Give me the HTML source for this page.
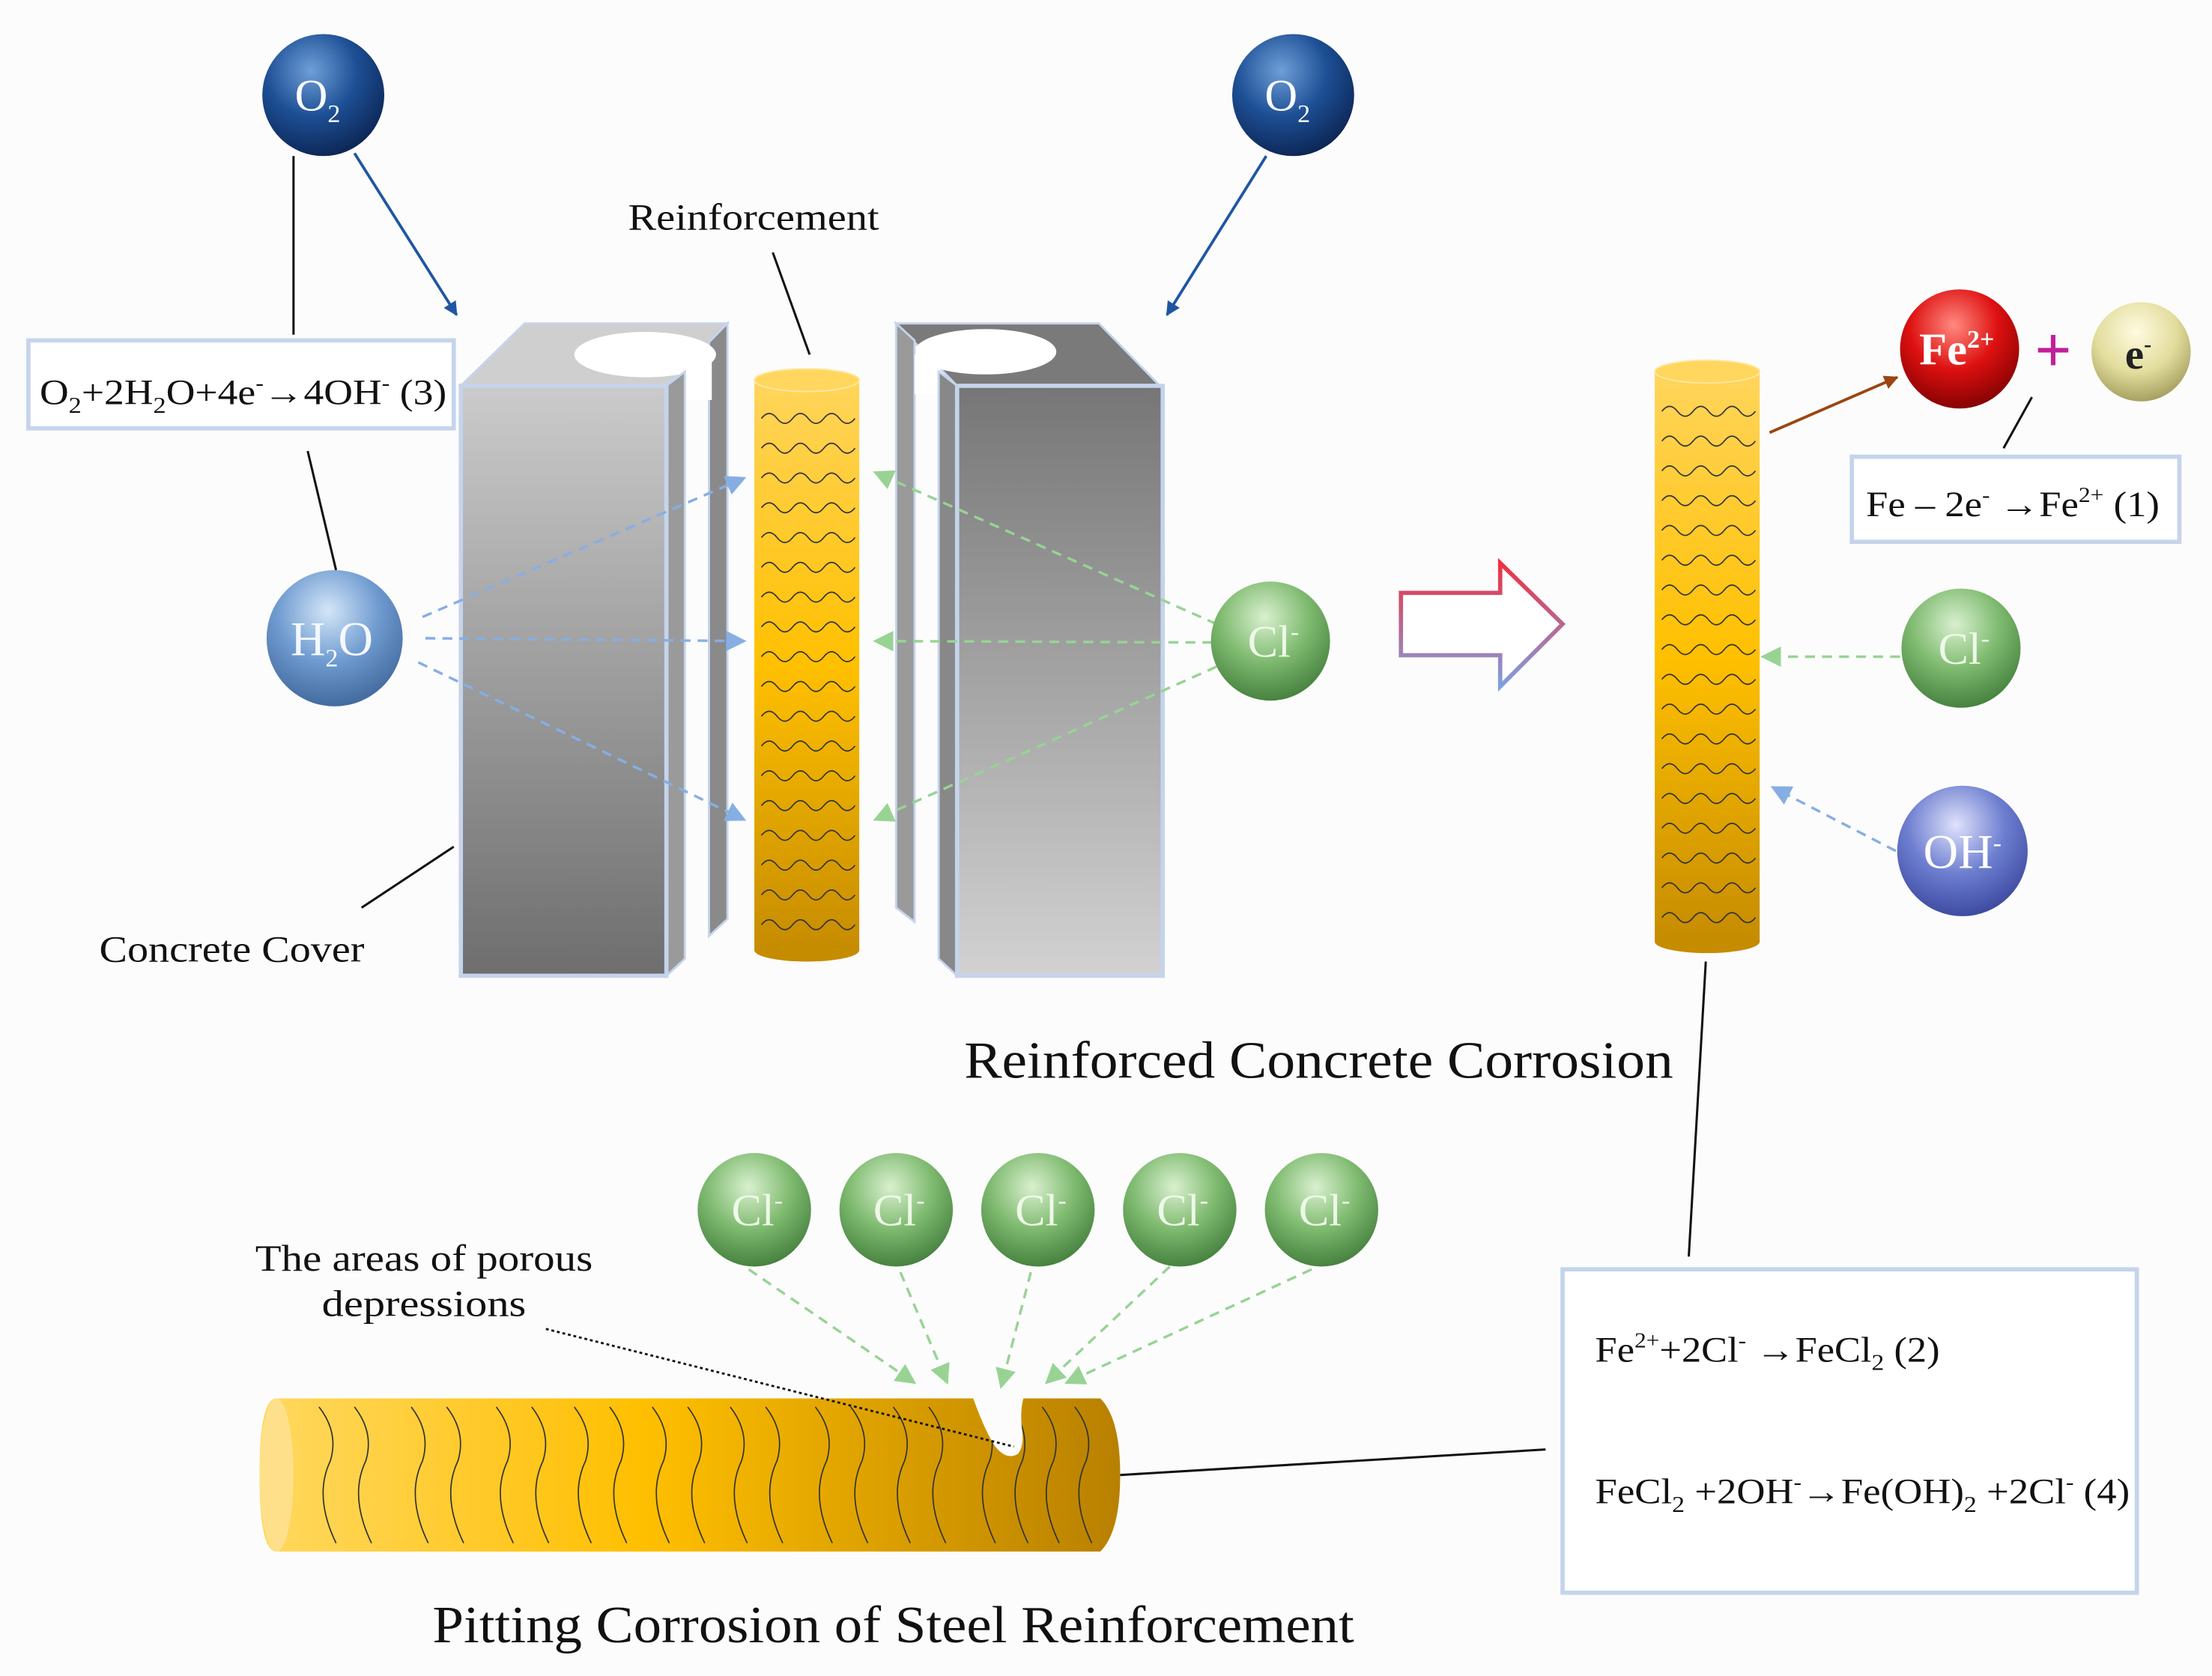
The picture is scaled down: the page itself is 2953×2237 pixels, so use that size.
<!DOCTYPE html>
<html><head><meta charset="utf-8"><style>
html,body{margin:0;padding:0;background:#fcfcfc;}
svg{display:block}
text{font-family:"Liberation Serif",serif;fill:#111}
</style></head><body>
<svg id="s" width="2953" height="2237" viewBox="0 0 1560 1181.7" xmlns="http://www.w3.org/2000/svg">
<defs>
<radialGradient id="gO2" cx="0.4" cy="0.3" r="0.75"><stop offset="0" stop-color="#6f9fd8"/><stop offset="0.5" stop-color="#1d4f95"/><stop offset="1" stop-color="#0b2350"/></radialGradient>
<radialGradient id="gH2O" cx="0.45" cy="0.3" r="0.75"><stop offset="0" stop-color="#d4e6f8"/><stop offset="0.5" stop-color="#6f9bd0"/><stop offset="1" stop-color="#3d6497"/></radialGradient>
<radialGradient id="gCl" cx="0.45" cy="0.3" r="0.75"><stop offset="0" stop-color="#d9f0cf"/><stop offset="0.5" stop-color="#7eba6f"/><stop offset="1" stop-color="#3f7a39"/></radialGradient>
<radialGradient id="gFe" cx="0.45" cy="0.3" r="0.75"><stop offset="0" stop-color="#ff8a80"/><stop offset="0.5" stop-color="#dd1010"/><stop offset="1" stop-color="#7a0000"/></radialGradient>
<radialGradient id="gE" cx="0.45" cy="0.3" r="0.75"><stop offset="0" stop-color="#fffbe0"/><stop offset="0.55" stop-color="#e2dc9c"/><stop offset="1" stop-color="#9c9658"/></radialGradient>
<radialGradient id="gOH" cx="0.45" cy="0.3" r="0.75"><stop offset="0" stop-color="#dfe2fb"/><stop offset="0.5" stop-color="#6d7ed0"/><stop offset="1" stop-color="#37439a"/></radialGradient>
<linearGradient id="gL" x1="0" y1="0" x2="0" y2="1"><stop offset="0" stop-color="#cbcbcb"/><stop offset="1" stop-color="#6e6e6e"/></linearGradient>
<linearGradient id="gR" x1="0" y1="0" x2="0" y2="1"><stop offset="0" stop-color="#767676"/><stop offset="1" stop-color="#d2d2d2"/></linearGradient>
<linearGradient id="gBar" x1="0" y1="0" x2="0" y2="1"><stop offset="0" stop-color="#ffd55c"/><stop offset="0.5" stop-color="#ffc000"/><stop offset="1" stop-color="#c68c00"/></linearGradient>
<linearGradient id="gHB" x1="0" y1="0" x2="1" y2="0"><stop offset="0" stop-color="#ffd860"/><stop offset="0.45" stop-color="#ffbf00"/><stop offset="1" stop-color="#b88000"/></linearGradient>
<linearGradient id="gArr" x1="0" y1="0" x2="0" y2="1"><stop offset="0" stop-color="#f03040"/><stop offset="1" stop-color="#7fa0e0"/></linearGradient>
<marker id="mB" viewBox="0 0 10 10" refX="9" refY="5" markerWidth="5" markerHeight="5" orient="auto"><path d="M0,0L10,5L0,10z" fill="#1f56a3"/></marker>
<marker id="mLB" viewBox="0 0 10 10" refX="9" refY="5" markerWidth="8" markerHeight="8" orient="auto"><path d="M0,0L10,5L0,10z" fill="#86aee3"/></marker>
<marker id="mG" viewBox="0 0 10 10" refX="9" refY="5" markerWidth="8" markerHeight="8" orient="auto"><path d="M0,0L10,5L0,10z" fill="#98d394"/></marker>
<marker id="mBr" viewBox="0 0 10 10" refX="9" refY="5" markerWidth="5" markerHeight="5" orient="auto"><path d="M0,0L10,5L0,10z" fill="#9b4510"/></marker>
</defs>
<rect width="1560" height="1182" fill="#fcfcfc"/>

<polygon points="500,240 513,228 513,648 500,660" fill="#8a8a8a" stroke="#c5d4ec" stroke-width="1.5"/>
<polygon points="325,272 370,228 513,228 470,272" fill="#cfcfcf" stroke="#c5d4ec" stroke-width="1.5"/>
<ellipse cx="455" cy="250" rx="50" ry="16" fill="#fff"/>
<rect x="482" y="252" width="20" height="30" fill="#fff"/>
<polygon points="470,272 483,262 483,676 470,688" fill="#9a9a9a" stroke="#c5d4ec" stroke-width="1.5"/>
<rect x="325" y="272" width="145" height="416" fill="url(#gL)" stroke="#c5d4ec" stroke-width="3"/>
<polygon points="632,228 775,228 818,272 675,272" fill="#7a7a7a" stroke="#c5d4ec" stroke-width="1.5"/>
<ellipse cx="695" cy="248" rx="50" ry="16" fill="#fff"/>
<polygon points="632,228 645,240 645,650 632,640" fill="#9a9a9a" stroke="#c5d4ec" stroke-width="1.5"/>
<rect x="645" y="250" width="18" height="28" fill="#fff"/>
<polygon points="662,262 675,272 675,688 662,676" fill="#888" stroke="#c5d4ec" stroke-width="1.5"/>
<rect x="675" y="272" width="145" height="416" fill="url(#gR)" stroke="#c5d4ec" stroke-width="3"/>

<rect x="532" y="268" width="74" height="402" fill="url(#gBar)"/>
<ellipse cx="569" cy="670" rx="37" ry="8" fill="#c68c00"/>
<ellipse cx="569" cy="268" rx="37" ry="8" fill="#ffd75e" stroke="#ffe7a0" stroke-width="1"/>
<g id="w1" fill="none" stroke="#333" stroke-width="0.9"></g>
<rect x="1167" y="262" width="74" height="402" fill="url(#gBar)"/>
<ellipse cx="1204" cy="664" rx="37" ry="8" fill="#c68c00"/>
<ellipse cx="1204" cy="262" rx="37" ry="8" fill="#ffd75e" stroke="#ffe7a0" stroke-width="1"/>
<g id="w2" fill="none" stroke="#333" stroke-width="0.9"></g>

<g stroke="#111" stroke-width="1.6" fill="none">
<line x1="207" y1="110" x2="207" y2="236"/>
<line x1="217" y1="318" x2="237" y2="402"/>
<line x1="545" y1="178" x2="571" y2="250"/>
<line x1="255" y1="640" x2="320" y2="597"/>
<line x1="1433" y1="280" x2="1413" y2="316"/>
<line x1="1203" y1="678" x2="1191" y2="886"/>
<line x1="790" y1="1040" x2="1090" y2="1022"/>
</g>
<line x1="250" y1="108" x2="322" y2="222" stroke="#1f56a3" stroke-width="2" marker-end="url(#mB)"/>
<line x1="893" y1="110" x2="823" y2="222" stroke="#1f56a3" stroke-width="2" marker-end="url(#mB)"/>
<line x1="1248" y1="305" x2="1338" y2="266" stroke="#9b4510" stroke-width="2" marker-end="url(#mBr)"/>
<g stroke="#86aee3" stroke-width="1.8" stroke-dasharray="7,5" fill="none" marker-end="url(#mLB)">
<line x1="298" y1="435" x2="525" y2="337"/>
<line x1="300" y1="450" x2="525" y2="452"/>
<line x1="295" y1="467" x2="525" y2="578"/>
<line x1="1337" y1="600" x2="1250" y2="555"/>
</g>
<g stroke="#98d394" stroke-width="1.8" stroke-dasharray="7,5" fill="none" marker-end="url(#mG)">
<line x1="858" y1="440" x2="617" y2="333"/>
<line x1="855" y1="453" x2="617" y2="452"/>
<line x1="858" y1="470" x2="617" y2="578"/>
<line x1="1340" y1="463" x2="1243" y2="463"/>
<line x1="528" y1="895" x2="645" y2="975"/>
<line x1="635" y1="897" x2="668" y2="975"/>
<line x1="727" y1="897" x2="706" y2="978"/>
<line x1="825" y1="893" x2="738" y2="975"/>
<line x1="925" y1="895" x2="752" y2="975"/>
</g>

<rect x="20" y="240" width="300" height="62" fill="#fff" stroke="#c5d4ec" stroke-width="3"/>
<text x="28" y="285" font-size="25" textLength="287" lengthAdjust="spacingAndGlyphs">O<tspan font-size="16" dy="6">2</tspan><tspan dy="-6">+2H</tspan><tspan font-size="16" dy="6">2</tspan><tspan dy="-6">O+4e</tspan><tspan font-size="15" dy="-10">-</tspan><tspan dy="10">→4OH</tspan><tspan font-size="15" dy="-10">-</tspan><tspan dy="10"> (3)</tspan></text>
<rect x="1306" y="322" width="231" height="60" fill="#fff" stroke="#c5d4ec" stroke-width="3"/>
<text x="1316" y="364" font-size="25" textLength="207" lengthAdjust="spacingAndGlyphs">Fe – 2e<tspan font-size="15" dy="-10">-</tspan><tspan dy="10"> →Fe</tspan><tspan font-size="15" dy="-10">2+</tspan><tspan dy="10"> (1)</tspan></text>
<rect x="1102" y="895" width="405" height="228" fill="#fff" stroke="#c5d4ec" stroke-width="3"/>
<text x="1125" y="960" font-size="25" textLength="243" lengthAdjust="spacingAndGlyphs">Fe<tspan font-size="15" dy="-10">2+</tspan><tspan dy="10">+2Cl</tspan><tspan font-size="15" dy="-10">-</tspan><tspan dy="10"> →FeCl</tspan><tspan font-size="16" dy="6">2</tspan><tspan dy="-6"> (2)</tspan></text>
<text x="1125" y="1060" font-size="25" textLength="377" lengthAdjust="spacingAndGlyphs">FeCl<tspan font-size="16" dy="6">2</tspan><tspan dy="-6"> +2OH</tspan><tspan font-size="15" dy="-10">-</tspan><tspan dy="10">→Fe(OH)</tspan><tspan font-size="16" dy="6">2</tspan><tspan dy="-6"> +2Cl</tspan><tspan font-size="15" dy="-10">-</tspan><tspan dy="10"> (4)</tspan></text>

<text x="443" y="162" font-size="26" textLength="177" lengthAdjust="spacingAndGlyphs">Reinforcement</text>
<text x="70" y="678" font-size="26" textLength="187" lengthAdjust="spacingAndGlyphs">Concrete Cover</text>
<text x="680" y="760" font-size="37" textLength="500" lengthAdjust="spacingAndGlyphs">Reinforced Concrete Corrosion</text>
<text x="180" y="896" font-size="26" textLength="238" lengthAdjust="spacingAndGlyphs">The areas of porous</text>
<text x="227" y="928" font-size="26" textLength="144" lengthAdjust="spacingAndGlyphs">depressions</text>
<text x="305" y="1158" font-size="37" textLength="650" lengthAdjust="spacingAndGlyphs">Pitting Corrosion of Steel Reinforcement</text>

<polygon points="988,418 1058,418 1058,397 1102,440 1058,484 1058,462 988,462" fill="#fff" stroke="url(#gArr)" stroke-width="3"/>

<path d="M195,986 L776,986 Q790,1000 790,1040 Q790,1080 776,1094 L195,1094 Q183,1094 183,1040 Q183,986 195,986 Z" fill="url(#gHB)"/>
<ellipse cx="195" cy="1040" rx="12" ry="54" fill="#ffe08a"/>
<g id="w3" fill="none" stroke="#333" stroke-width="0.9"></g>
<path d="M686,985 Q695,1010 702,1020 Q710,1030 718,1025 Q722,1020 721,1010 Q719,995 722,985 Z" fill="#fcfcfc"/>
<line x1="385" y1="937" x2="715" y2="1020" stroke="#111" stroke-width="1.5" stroke-dasharray="2,2"/>

<g font-family="Liberation Serif,serif" text-anchor="middle">
<circle cx="228" cy="67" r="43" fill="url(#gO2)"/><text x="224" y="78" font-size="32" style="fill:#fff">O<tspan font-size="18" dy="8">2</tspan></text>
<circle cx="912" cy="67" r="43" fill="url(#gO2)"/><text x="908" y="78" font-size="32" style="fill:#fff">O<tspan font-size="18" dy="8">2</tspan></text>
<circle cx="236" cy="450" r="48" fill="url(#gH2O)"/><text x="234" y="462" font-size="34" style="fill:#f4f8ff">H<tspan font-size="18" dy="8">2</tspan><tspan dy="-8">O</tspan></text>
<circle cx="896" cy="452" r="42" fill="url(#gCl)"/><text x="898" y="463" font-size="32" style="fill:#eef8e8">Cl<tspan font-size="18" dy="-12">-</tspan></text>
<circle cx="1383" cy="457" r="42" fill="url(#gCl)"/><text x="1385" y="468" font-size="32" style="fill:#eef8e8">Cl<tspan font-size="18" dy="-12">-</tspan></text>
<circle cx="1384" cy="600" r="46" fill="url(#gOH)"/><text x="1384" y="612" font-size="34" style="fill:#fff">OH<tspan font-size="18" dy="-12">-</tspan></text>
<circle cx="1382" cy="246" r="42" fill="url(#gFe)"/><text x="1380" y="257" font-size="32" font-weight="bold" style="fill:#fff">Fe<tspan font-size="18" dy="-12">2+</tspan></text>
<text x="1448" y="262" font-size="46" font-weight="bold" style="fill:#c0209a">+</text>
<circle cx="1510" cy="248" r="35" fill="url(#gE)"/><text x="1508" y="260" font-size="30" font-weight="bold" style="fill:#222">e<tspan font-size="16" dy="-12">-</tspan></text>
<g id="cls"></g>
</g>
</svg>
<script>
var NS="http://www.w3.org/2000/svg";
function wav(id,x0,x1,y0,y1,step){var g=document.getElementById(id);
for(var y=y0;y<=y1;y+=step){var d="M"+x0+","+y;var w=(x1-x0)/3;
for(var k=0;k<3;k++){var a=x0+k*w;d+=" Q"+(a+w/4)+","+(y-7)+" "+(a+w/2)+","+y+" Q"+(a+3*w/4)+","+(y+7)+" "+(a+w)+","+y;}
var p=document.createElementNS(NS,"path");p.setAttribute("d",d);g.appendChild(p);}}
wav("w1",537,603,295,660,21);wav("w2",1172,1238,290,655,21);
var g3=document.getElementById("w3");
var xs=[225,250,290,315,350,375,405,430,460,485,515,540,575,600,630,655,690,713,735,758];
xs.forEach(function(x){var d="M"+x+",992 Q"+(x+14)+",1010 "+(x+8)+",1030 Q"+(x-4)+",1055 "+(x+12)+",1088";
var p=document.createElementNS(NS,"path");p.setAttribute("d",d);g3.appendChild(p);});
var c=document.getElementById("cls");
[532,632,732,832,932].forEach(function(x){
var ci=document.createElementNS(NS,"circle");ci.setAttribute("cx",x);ci.setAttribute("cy",853);ci.setAttribute("r",40);ci.setAttribute("fill","url(#gCl)");c.appendChild(ci);
var t=document.createElementNS(NS,"text");t.setAttribute("x",x+2);t.setAttribute("y",864);t.setAttribute("font-size","32");t.setAttribute("style","fill:#eef8e8");t.textContent="Cl";
var s=document.createElementNS(NS,"tspan");s.setAttribute("font-size","18");s.setAttribute("dy","-12");s.textContent="-";t.appendChild(s);c.appendChild(t);});
</script>
</body></html>
